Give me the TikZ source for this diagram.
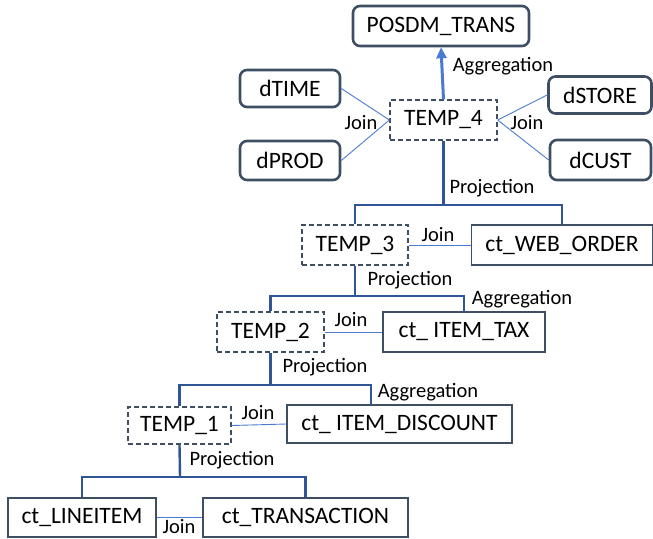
\documentclass[tikz,border=0pt]{standalone}
\usepackage{fontspec}
\setmainfont{Carlito}
\usetikzlibrary{arrows.meta}
\definecolor{slate}{HTML}{3F4F63}
\definecolor{projblue}{HTML}{2F5597}
\definecolor{joinblue}{HTML}{4A7BD0}
\tikzset{
  boxbase/.style={inner sep=0pt, font=\fontsize{23.5}{26}\selectfont, text=black},
  dimbox/.style={boxbase, draw=slate, line width=2.6pt, rounded corners=7pt},
  ctbox/.style={boxbase, draw=slate, line width=1.3pt},
  tempbox/.style={boxbase, draw=slate, line width=1.3pt, dash pattern=on 5pt off 3pt},
  lbl/.style={inner sep=0pt, font=\fontsize{20.5}{23}\selectfont, text=black},
  proj/.style={draw=projblue, line width=2.4pt},
  joinline/.style={draw=joinblue, line width=0.9pt},
  aggarrow/.style={draw=joinblue, line width=3pt, -{Triangle[length=11pt,width=10pt]}},
}
\begin{document}
\begin{tikzpicture}[x=1pt,y=-1pt]
\useasboundingbox (0,0) rectangle (653,538);
% nodes
\node[dimbox, minimum width=176pt, minimum height=40pt] (posdm) at (441,26) {POSDM\_TRANS};
\node[dimbox, minimum width=100pt, minimum height=37pt] (dtime) at (290,88.5) {dTIME};
\node[dimbox, minimum width=100pt, minimum height=39pt] (dprod) at (290,160.5) {dPROD};
\node[tempbox, minimum width=107pt, minimum height=40pt] (t4) at (443.5,120) {TEMP\_4};
\node[dimbox, minimum width=103pt, minimum height=37pt] (dstore) at (600,95) {dSTORE};
\node[dimbox, minimum width=101pt, minimum height=40pt] (dcust) at (600.5,160) {dCUST};
\node[tempbox, minimum width=106pt, minimum height=40pt] (t3) at (355,245) {TEMP\_3};
\node[ctbox, minimum width=181pt, minimum height=40pt] (web) at (562,245) {ct\_WEB\_ORDER};
\node[tempbox, minimum width=107pt, minimum height=40pt] (t2) at (270.5,332) {TEMP\_2};
\node[ctbox, minimum width=162pt, minimum height=40pt] (tax) at (464,332) {ct\_ ITEM\_TAX};
\node[tempbox, minimum width=103pt, minimum height=37pt] (t1) at (179.5,425.5) {TEMP\_1};
\node[ctbox, minimum width=225pt, minimum height=38pt] (disc) at (399.5,424) {ct\_ ITEM\_DISCOUNT};
\node[ctbox, minimum width=148pt, minimum height=39pt] (line) at (82,517.5) {ct\_LINEITEM};
\node[ctbox, minimum width=205pt, minimum height=39pt] (trans) at (305.5,517.5) {ct\_TRANSACTION};
% labels
\node[lbl] (lagg4) at (503,66) {Aggregation};
\node[lbl] (ljl) at (361,123) {Join};
\node[lbl] (ljr) at (527,123) {Join};
\node[lbl] (lp4) at (492,188) {Projection};
\node[lbl] (lj3) at (438,235) {Join};
\node[lbl] (lp3) at (410,280) {Projection};
\node[lbl] (lagg2) at (522,299) {Aggregation};
\node[lbl] (lj2) at (351,320) {Join};
\node[lbl] (lp2) at (325,367) {Projection};
\node[lbl] (lagg1) at (428,392) {Aggregation};
\node[lbl] (lj1) at (258,413) {Join};
\node[lbl] (lp1) at (232,460) {Projection};
\node[lbl] (lj0) at (179,526.5) {Join};
% coordinates for projection trees
\coordinate (p4) at (443.5,205);
\coordinate (p3) at (355,296);
\coordinate (p2) at (270.5,385);
\coordinate (p1) at (180,477);
\coordinate (discin) at (371,405);
% aggregation arrow
\draw[aggarrow] (t4.north) -- (posdm.south);
% join lines
\draw[joinline] (dtime.east) -- (t4.west);
\draw[joinline] (dprod.east) -- (t4.west);
\draw[joinline] (dstore.west) -- (t4.east);
\draw[joinline] (dcust.west) -- (t4.east);
\draw[joinline] (t3.east) -- (web.west);
\draw[joinline] (t2.east) -- (tax.west);
\draw[joinline] (t1.east) -- (disc.west);
\draw[joinline] (line.east) -- (trans.west);
% projection trees
\draw[proj] (t4.south) -- (p4);
\draw[proj] (t3.north) |- (p4) -| (web.north);
\draw[proj] (t3.south) -- (p3);
\draw[proj] (t2.north) |- (p3) -| (tax.north);
\draw[proj] (t2.south) -- (p2);
\draw[proj] (t1.north) |- (p2) -| (discin);
\draw[proj] (t1.south) -- (p1);
\draw[proj] (line.north) |- (p1) -| (trans.north);
\end{tikzpicture}
\end{document}
